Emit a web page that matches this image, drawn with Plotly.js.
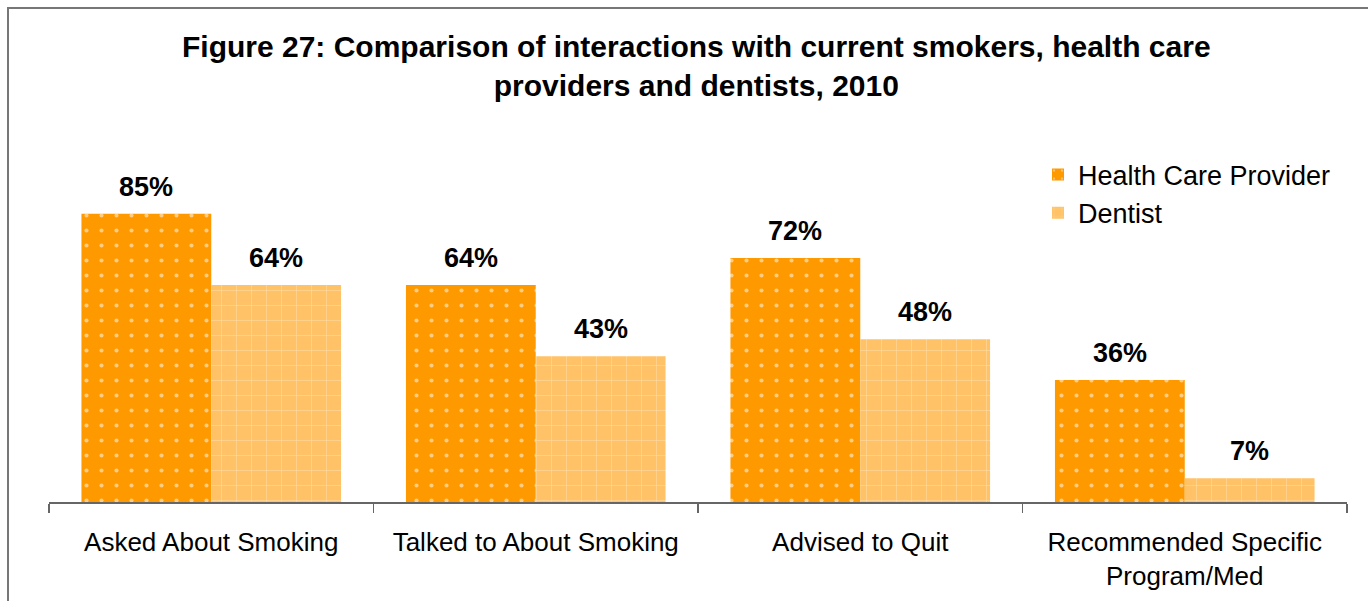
<!DOCTYPE html>
<html>
<head>
<meta charset="utf-8">
<script src="https://cdn.plot.ly/plotly-3.0.1.min.js"></script>
<style>html,body{margin:0;padding:0;background:#fff;}#chart{width:1368px;height:601px;}</style>
</head>
<body>
<div id="chart"></div>
<script>
const categories = ["Asked About Smoking", "Talked to About Smoking", "Advised to Quit", "Recommended Specific<br>Program/Med"];
const healthCareProvider = [85, 64, 72, 36];
const dentist = [64, 43, 48, 7];
const seriesNames = ["Health Care Provider", "Dentist"];
const titleText = "Figure 27: Comparison of interactions with current smokers, health care<br>providers and dentists, 2010";

const W = 1368, H = 601;
const mL = 49, mR = 21, mT = 163, mB = 99;
const plotW = W - mL - mR, plotH = H - mT - mB;
const px = v => (v - mL) / plotW;
const py = v => (H - mB - v) / plotH;
const FONT = "Liberation Sans, Arial, sans-serif";

const traces = [
  {
    type: "bar", name: seriesNames[0], x: categories, y: healthCareProvider,
    marker: {color: "#FF9900", line: {width: 0},
      pattern: {shape: ".", fgcolor: "#FFFFFF", bgcolor: "#FF9900", size: 15, solidity: 0.06, fillmode: "overlay"}},
    hoverinfo: "skip"
  },
  {
    type: "bar", name: seriesNames[1], x: categories, y: dentist,
    marker: {color: "#FFC266", line: {width: 0},
      pattern: {shape: "+", fgcolor: "#FFF3E0", bgcolor: "#FFC266", size: 15, solidity: 0.08, fillmode: "overlay"}},
    hoverinfo: "skip"
  }
];

const annotations = [];
const off = 65;
[healthCareProvider, dentist].forEach((vals, si) => {
  vals.forEach((v, i) => {
    annotations.push({
      x: categories[i], y: v, xref: "x", yref: "y",
      xshift: si === 0 ? -off : off, yshift: 10,
      yanchor: "bottom", showarrow: false,
      text: v + "%",
      font: {family: FONT, size: 27, color: "#000", weight: "bold"}
    });
  });
});

const layout = {
  width: W, height: H,
  margin: {l: mL, r: mR, t: mT, b: mB, pad: 0},
  paper_bgcolor: "#FFFFFF", plot_bgcolor: "#FFFFFF",
  font: {family: FONT, size: 26, color: "#000"},
  title: {
    text: titleText, x: 0.509, xanchor: "center", xref: "container",
    y: 1 - 57/H, yanchor: "top", yref: "container",
    font: {family: FONT, size: 30, color: "#000", weight: "bold"}
  },
  barmode: "group", bargap: 0.2, bargroupgap: 0,
  showlegend: true,
  legend: {
    x: px(1038), y: py(194), xanchor: "left", yanchor: "middle",
    font: {family: FONT, size: 27, color: "#000"}, bgcolor: "rgba(0,0,0,0)",
    itemwidth: 30, tracegroupgap: 0
  },
  xaxis: {
    type: "category", showline: true, linecolor: "#666", linewidth: 1.5,
    ticks: "outside", tickson: "boundaries", ticklen: 9, tickcolor: "#666", tickwidth: 1.5,
    showgrid: false, zeroline: false, ticklabelstandoff: 16,
    tickfont: {family: FONT, size: 26, color: "#000"}, automargin: false
  },
  yaxis: {range: [0, 100], visible: false, showgrid: false, zeroline: false, fixedrange: true},
  annotations: annotations,
  shapes: [{
    type: "rect", xref: "paper", yref: "paper",
    x0: px(8), x1: px(W + 20), y0: py(H + 20), y1: py(8),
    line: {color: "#777", width: 2}, fillcolor: "rgba(0,0,0,0)", layer: "below"
  }]
};

Plotly.newPlot("chart", traces, layout, {displayModeBar: false, staticPlot: true});
</script>
</body>
</html>
